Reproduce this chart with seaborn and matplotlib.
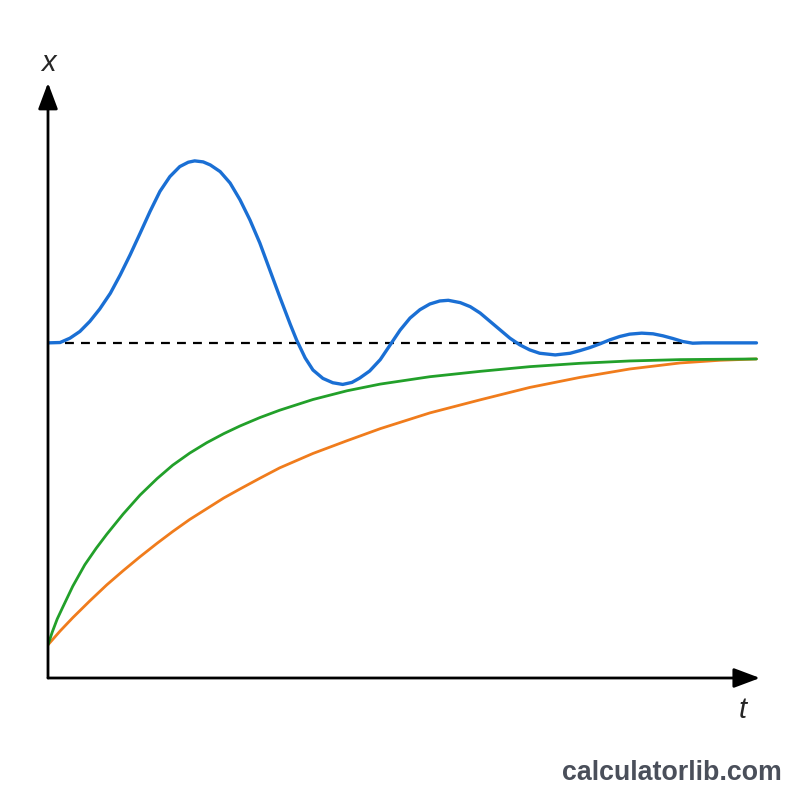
import matplotlib
matplotlib.use("Agg")
import matplotlib.pyplot as plt
import seaborn as sns
import pandas as pd

# step response (arbitrary units, set point = 10)
t_blue = [0.0, 0.17, 0.31, 0.45, 0.59, 0.73, 0.88, 1.02, 1.16, 1.30, 1.44, 1.58, 1.72,
          1.86, 1.98, 2.07, 2.19, 2.29, 2.43, 2.57, 2.71, 2.85, 2.99, 3.13, 3.27,
          3.42, 3.51, 3.63, 3.74, 3.88, 4.02, 4.16, 4.29, 4.40, 4.54, 4.69, 4.83,
          4.97, 5.11, 5.25, 5.39, 5.53, 5.65, 5.82, 5.96, 6.10, 6.24, 6.38, 6.52,
          6.66, 6.80, 6.94, 7.16, 7.37, 7.51, 7.65, 7.79, 7.93, 8.07, 8.21, 8.38,
          8.54, 8.68, 8.82, 8.96, 9.10, 9.24, 10.0]
x_blue = [10.0, 10.01, 10.14, 10.34, 10.64, 11.01, 11.48, 12.03, 12.63, 13.27, 13.92,
          14.52, 14.96, 15.26, 15.39, 15.43, 15.40, 15.31, 15.11, 14.77, 14.27, 13.67,
          12.98, 12.18, 11.38, 10.55, 10.08, 9.55, 9.19, 8.94, 8.81, 8.76, 8.82, 8.95,
          9.16, 9.50, 9.94, 10.38, 10.74, 10.99, 11.16, 11.25, 11.27, 11.20, 11.08,
          10.89, 10.64, 10.39, 10.14, 9.94, 9.79, 9.69, 9.64, 9.69, 9.77, 9.86, 9.97,
          10.09, 10.19, 10.26, 10.29, 10.27, 10.21, 10.13, 10.04, 9.99, 10.0, 10.0]

t_green = [0.0, 0.06, 0.13, 0.21, 0.35, 0.52, 0.68, 0.83, 1.06, 1.30, 1.54, 1.76, 2.00,
           2.24, 2.48, 2.71, 2.99, 3.27, 3.74, 4.22, 4.69, 5.39, 6.10, 6.80, 7.51,
           8.21, 8.92, 10.0]
x_green = [0.99, 1.37, 1.76, 2.12, 2.74, 3.38, 3.87, 4.29, 4.89, 5.46, 5.95, 6.35, 6.71,
           7.02, 7.29, 7.52, 7.77, 7.99, 8.31, 8.57, 8.77, 8.99, 9.15, 9.29, 9.39,
           9.46, 9.50, 9.52]

t_orange = [0.0, 0.17, 0.35, 0.59, 0.83, 1.06, 1.30, 1.54, 1.76, 2.00, 2.24, 2.48, 2.71,
            2.99, 3.27, 3.74, 4.22, 4.69, 5.39, 6.10, 6.80, 7.51, 8.21, 8.92, 9.48, 10.0]
x_orange = [0.99, 1.40, 1.80, 2.30, 2.78, 3.20, 3.62, 4.02, 4.37, 4.73, 5.05, 5.37, 5.64,
            5.96, 6.27, 6.70, 7.08, 7.44, 7.91, 8.30, 8.67, 8.97, 9.22, 9.40, 9.48, 9.52]

target_t = [0.24, 9.03]
target_x = [10.0, 10.0]

sns.set_style("white")

fig = plt.figure(figsize=(8, 8), dpi=100)
ax = fig.add_axes([0.06, 0.1525, 0.89, 0.744])

blue = pd.DataFrame({"t": t_blue, "x": x_blue})
green = pd.DataFrame({"t": t_green, "x": x_green})
orange = pd.DataFrame({"t": t_orange, "x": x_orange})

ax.plot(target_t, target_x, color="black", lw=1.6, ls=(0, (4, 3.2)))
sns.lineplot(data=orange, x="t", y="x", ax=ax, color="#f07c1c", lw=2.0, estimator=None, sort=False)
sns.lineplot(data=green, x="t", y="x", ax=ax, color="#22a02a", lw=2.0, estimator=None, sort=False)
sns.lineplot(data=blue, x="t", y="x", ax=ax, color="#1a6fd4", lw=2.4, estimator=None, sort=False)

ax.set_xlim(0, 10.05)
ax.set_ylim(0, 17.76)
ax.set_xticks([])
ax.set_yticks([])
ax.set_xlabel("")
ax.set_ylabel("")
for s in ax.spines.values():
    s.set_visible(False)

# axes with arrow heads
arr = dict(arrowstyle="-|>,head_length=0.8,head_width=0.3", color="black", lw=2,
           mutation_scale=20, shrinkA=0, shrinkB=0)
ax.annotate("", xy=(1, 0), xytext=(0, 0), xycoords="axes fraction", arrowprops=arr)
ax.annotate("", xy=(0, 1), xytext=(0, 0), xycoords="axes fraction", arrowprops=arr)

fig.text(48 / 800, 1 - 63 / 800, "x", fontsize=21, style="italic", family="Liberation Sans",
         ha="center", va="center")
fig.text(743 / 800, 1 - 710 / 800, "t", fontsize=21, style="italic", family="Liberation Sans",
         ha="center", va="center")
fig.text(782 / 800, 1 - 773 / 800, "calculatorlib.com", fontsize=19.3, weight="bold",
         family="Liberation Sans", color="#4a4f5a", ha="right", va="center")

fig.savefig("out.png", dpi=100, facecolor="white")
